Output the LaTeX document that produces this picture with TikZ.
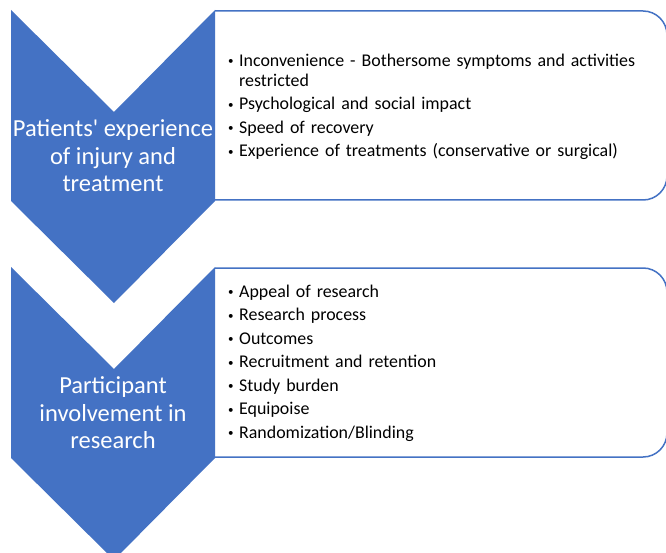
\documentclass[tikz,border=0pt]{standalone}
\usepackage{fontspec}
\setmainfont{Carlito}
\definecolor{cblue}{HTML}{4472C4}
\newcommand{\bitem}[1]{\par\hangindent=12pt\hangafter=1\noindent\makebox[12pt][l]{\hspace{1pt}\raisebox{1.6pt}{\fontsize{11}{11}\selectfont\textbullet}}#1}
\tikzset{
  chev/.style={fill=cblue, draw=none},
  listbox/.style={draw=cblue, line width=1.5pt, fill=white, rounded corners=24pt},
  chevtext/.style={text=white, align=center, font=\fontsize{24.5}{27.5}\selectfont},
  listtext/.style={anchor=west, text width=425pt, inner sep=0pt,
    font=\fontsize{17.9}{20}\selectfont}
}
\begin{document}
\begin{tikzpicture}[x=1pt,y=-1pt]
\useasboundingbox (0,0) rectangle (666,553);
\clip (0,0) rectangle (666,553);
\fill[white] (0,0) rectangle (666,553);
% boxes
\draw[listbox] (215,11) -- (667,11) -- (667,200) -- (215,200);
\draw[listbox] (215,268) -- (667,268) -- (667,457) -- (215,457);
% chevrons
\fill[chev] (11,10) -- (114,112) -- (215,10) -- (215,201) -- (114,303) -- (11,201) -- cycle;
\fill[chev] (11,267) -- (114,369) -- (215,267) -- (215,458) -- (114,560) -- (11,458) -- cycle;
\node[chevtext] (c1) at (113,156) {Patients\textquotesingle{} experience\\of injury and\\treatment};
\node[chevtext] (c2) at (113,413) {Participant\\involvement in\\research};
\node[listtext] (l1) at (227,101.5) {\raggedright\hyphenpenalty=10000\parskip=3.5pt
\bitem{Inconvenience - Bothersome symptoms and activities restricted}
\bitem{Psychological and social impact}
\bitem{Speed of recovery}
\bitem{Experience of treatments (conservative or surgical)}};
\node[listtext] (l2) at (227,357.5) {\raggedright\hyphenpenalty=10000\parskip=3.5pt
\bitem{Appeal of research}
\bitem{Research process}
\bitem{Outcomes}
\bitem{Recruitment and retention}
\bitem{Study burden}
\bitem{Equipoise}
\bitem{Randomization/Blinding}};
\end{tikzpicture}
\end{document}
